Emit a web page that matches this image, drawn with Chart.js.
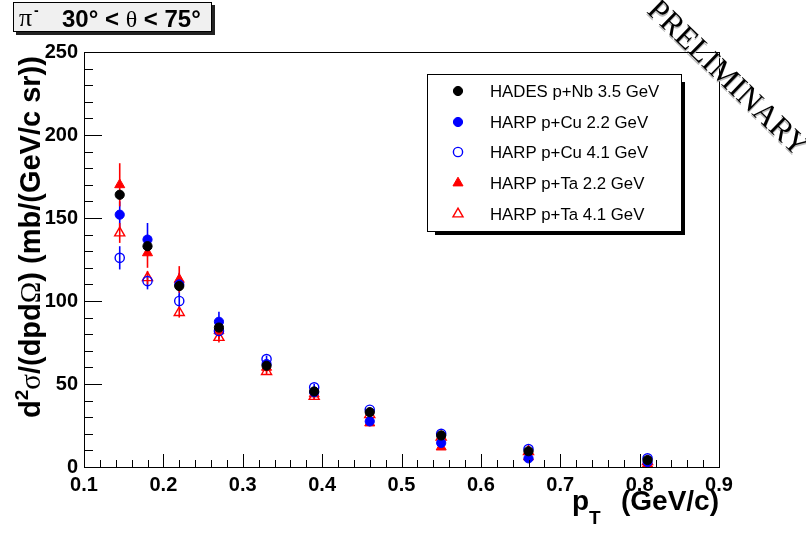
<!DOCTYPE html>
<html>
<head>
<meta charset="utf-8">
<script src="https://cdn.jsdelivr.net/npm/chart.js@4.4.1/dist/chart.umd.min.js"></script>
<style>
  html, body { margin: 0; padding: 0; background: #fff; }
  canvas { display: block; }
</style>
</head>
<body>
<canvas id="chart" width="806" height="534"></canvas>
<script>
// pT bins (GeV/c)
const pt = [0.145, 0.18, 0.22, 0.27, 0.33, 0.39, 0.46, 0.55, 0.66, 0.81];

// cross sections, mb/(GeV/c sr)
const hadesNb  = [164, 133, 109, 84, 61, 45.5, 33, 19, 9.5, 4.2];
const harpCu22 = [152, 137, 110, 87.5, 62, 45, 27.5, 14.5, 5.2, 3];
const harpCu41 = [126, 112, 100, 82, 65, 48, 34.5, 20, 10.8, 5.2];
const harpTa22 = [170, 129, 113, 82, 60, 44, 26.5, 12, 6, 1.8];
const harpTa41 = [141, 114, 93, 78, 57.5, 42.5, 31.5, 18, 9.3, 3.2];

// errors
const hadesErr  = [3, 3, 2.5, 2, 1.5, 1.2, 1, 0.8, 0.5, 0.3];
const harpCu22Err = [8, 10, 7, 6, 3, 3, 2, 1.5, 1, 0.5];
const harpCu41Err = [7, 5, 4, 3, 2, 2, 1.5, 1, 0.7, 0.4];
const harpTa22Err = [13, 9, 8, 5, 3, 3, 2, 1.5, 1, 0.5];
const harpTa41Err = [6, 4, 3, 3, 2, 2, 1.5, 1, 0.7, 0.4];

const seriesLabels = ['HADES p+Nb 3.5 GeV', 'HARP p+Cu 2.2 GeV', 'HARP p+Cu 4.1 GeV', 'HARP p+Ta 2.2 GeV', 'HARP p+Ta 4.1 GeV'];
const xTicks = [0.1, 0.2, 0.3, 0.4, 0.5, 0.6, 0.7, 0.8, 0.9];
const yTicks = [0, 50, 100, 150, 200, 250];

const SANS = '"Liberation Sans", Arial, Helvetica, sans-serif';
const SERIF = '"Liberation Serif", "Times New Roman", serif';

const values = [hadesNb, harpCu22, harpCu41, harpTa22, harpTa41];
const errors = [hadesErr, harpCu22Err, harpCu41Err, harpTa22Err, harpTa41Err];
const colors = ['#000000', '#0000ff', '#0000ff', '#ff0000', '#ff0000'];
const shapes = ['circle', 'circle', 'circle', 'triangle', 'triangle'];
const filled = [true, true, false, true, false];

function makeDataset(i) {
    return {
        label: seriesLabels[i],
        data: pt.map((x, k) => ({ x: x, y: values[i][k], err: errors[i][k] })),
        pointStyle: shapes[i],
        pointRadius: shapes[i] === 'triangle' ? 5.8 : 4.6,
        pointBackgroundColor: filled[i] ? colors[i] : 'rgba(0,0,0,0)',
        pointBorderColor: colors[i],
        pointBorderWidth: filled[i] ? 1 : 1.4,
        showLine: false
    };
}

function drawMarker(ctx, shape, isFilled, color, x, y) {
    ctx.beginPath();
    if (shape === 'circle') {
        ctx.arc(x, y, 4.6, 0, Math.PI * 2);
    } else {
        const r = 5.8;
        ctx.moveTo(x, y - r);
        ctx.lineTo(x + r * 0.866, y + r * 0.5);
        ctx.lineTo(x - r * 0.866, y + r * 0.5);
        ctx.closePath();
    }
    ctx.strokeStyle = color;
    ctx.lineWidth = isFilled ? 1 : 1.4;
    if (isFilled) { ctx.fillStyle = color; ctx.fill(); }
    ctx.stroke();
}

// vertical error bars, drawn under the markers
const errorBars = {
    id: 'errorBars',
    beforeDatasetsDraw(chart) {
        const { ctx, scales: { x, y } } = chart;
        ctx.save();
        chart.data.datasets.forEach(ds => {
            ctx.strokeStyle = ds.pointBorderColor;
            ctx.lineWidth = 1.6;
            ds.data.forEach(p => {
                const px = x.getPixelForValue(p.x);
                ctx.beginPath();
                ctx.moveTo(px, y.getPixelForValue(Math.max(p.y - p.err, 0)));
                ctx.lineTo(px, y.getPixelForValue(p.y + p.err));
                ctx.stroke();
            });
        });
        ctx.restore();
    }
};

// ROOT style frame, inner ticks, titles, legend
const decorations = {
    id: 'decorations',
    afterDraw(chart) {
        const { ctx, chartArea: a, scales: { x, y } } = chart;
        ctx.save();
        ctx.strokeStyle = '#000';
        ctx.lineWidth = 1;
        ctx.strokeRect(Math.round(a.left) + 0.5, Math.round(a.top) + 0.5,
                       Math.round(a.right - a.left), Math.round(a.bottom - a.top));

        ctx.beginPath();
        for (let v = 10; v <= 90; v += 2) {
            const px = Math.round(x.getPixelForValue(v / 100)) + 0.5;
            const len = v % 10 === 0 ? 13 : 7;
            ctx.moveTo(px, a.bottom);
            ctx.lineTo(px, a.bottom - len);
        }
        for (let v = 0; v <= 250; v += 10) {
            const py = Math.round(y.getPixelForValue(v)) + 0.5;
            const len = v % 50 === 0 ? 18 : 9;
            ctx.moveTo(a.left, py);
            ctx.lineTo(a.left + len, py);
        }
        ctx.stroke();

        // x title
        ctx.fillStyle = '#000';
        ctx.textBaseline = 'alphabetic';
        ctx.textAlign = 'left';
        ctx.font = 'bold 28px ' + SANS;
        ctx.fillText('p', 572, 510);
        ctx.font = 'bold 19px ' + SANS;
        ctx.fillText('T', 589, 524);
        ctx.textAlign = 'right';
        ctx.font = 'bold 28px ' + SANS;
        ctx.fillText('(GeV/c)', 719, 510);

        // y title
        ctx.save();
        ctx.translate(40, 418);
        ctx.rotate(-Math.PI / 2);
        ctx.textAlign = 'left';
        const parts = [
            ['d', 'bold 29px ' + SANS, 0],
            ['2', 'bold 19px ' + SANS, -12],
            ['\u03c3', '29px ' + SERIF, 0],
            ['/(dpd', 'bold 29px ' + SANS, 0],
            ['\u03a9', '29px ' + SERIF, 0],
            [') (mb/(GeV/c sr))', 'bold 29px ' + SANS, 0]
        ];
        let cx = 0;
        parts.forEach(([t, f, dy]) => {
            ctx.font = f;
            ctx.fillText(t, cx, dy);
            cx += ctx.measureText(t).width;
        });
        ctx.restore();

        // title box
        ctx.fillStyle = '#222';
        ctx.fillRect(16, 5, 199, 30);
        ctx.fillStyle = '#f0f0f0';
        ctx.fillRect(13, 2, 199, 30);
        ctx.strokeRect(13.5, 2.5, 198, 29);
        ctx.fillStyle = '#000';
        ctx.textAlign = 'left';
        ctx.font = '26px ' + SERIF;
        ctx.fillText('\u03c0', 19, 26);
        ctx.font = 'bold 14px ' + SANS;
        ctx.fillText('-', 34, 15);
        let tx = 62;
        [['30\u00b0 < ', 'bold 24px ' + SANS], ['\u03b8', '24px ' + SERIF], [' < 75\u00b0', 'bold 24px ' + SANS]].forEach(([t, f]) => {
            ctx.font = f;
            ctx.fillText(t, tx, 27);
            tx += ctx.measureText(t).width;
        });

        // legend
        ctx.fillStyle = '#000';
        ctx.fillRect(681, 82, 4, 153);
        ctx.fillRect(435, 231, 250, 4);
        ctx.fillStyle = '#fff';
        ctx.fillRect(427, 74, 254, 157);
        ctx.strokeRect(427.5, 74.5, 254, 157);
        const rows = [91, 122, 152, 183, 214];
        chart.data.datasets.forEach((ds, i) => {
            drawMarker(ctx, shapes[i], filled[i], colors[i], 458, rows[i]);
            ctx.fillStyle = '#000';
            ctx.font = '16.8px ' + SANS;
            ctx.textAlign = 'left';
            ctx.textBaseline = 'middle';
            ctx.fillText(ds.label, 490, rows[i] + 1);
        });

        // watermark
        ctx.save();
        ctx.translate(727, 79);
        ctx.rotate(44 * Math.PI / 180);
        ctx.font = '31px ' + SERIF;
        ctx.textAlign = 'center';
        ctx.textBaseline = 'middle';
        ctx.fillStyle = '#bbb';
        ctx.fillText('PRELIMINARY', 1, 1.5);
        ctx.fillStyle = '#000';
        ctx.fillText('PRELIMINARY', 0, 0);
        ctx.restore();

        ctx.restore();
    }
};

const tickFont = { family: SANS, size: 20, weight: 'bold' };

new Chart(document.getElementById('chart').getContext('2d'), {
    type: 'scatter',
    data: { datasets: [0, 1, 2, 3, 4].map(makeDataset) },
    options: {
        responsive: false,
        animation: false,
        devicePixelRatio: 1,
        layout: { padding: { top: 52, right: 87, left: 0, bottom: 0 } },
        plugins: { legend: { display: false }, tooltip: { enabled: false } },
        scales: {
            x: {
                type: 'linear', min: 0.1, max: 0.9,
                grid: { display: false, drawTicks: false },
                border: { display: false },
                afterBuildTicks: s => { s.ticks = xTicks.map(v => ({ value: v })); },
                afterFit: s => { s.height = 67; },
                ticks: { font: tickFont, color: '#000', padding: 6, maxRotation: 0, autoSkip: false,
                         callback: v => v.toFixed(1) }
            },
            y: {
                type: 'linear', min: 0, max: 250,
                grid: { display: false, drawTicks: false },
                border: { display: false },
                afterBuildTicks: s => { s.ticks = yTicks.map(v => ({ value: v })); },
                afterFit: s => { s.width = 84; },
                ticks: { font: tickFont, color: '#000', padding: 6, autoSkip: false,
                         callback: v => String(v) }
            }
        }
    },
    plugins: [errorBars, decorations]
});
</script>
</body>
</html>
